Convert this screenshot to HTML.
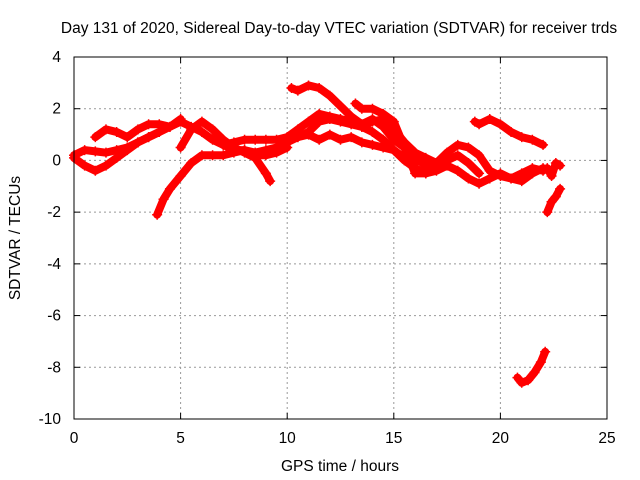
<!DOCTYPE html>
<html><head><meta charset="utf-8"><style>
body{margin:0;background:#fff}
svg{display:block;font-family:"Liberation Sans",sans-serif;font-size:15.5px}
</style></head><body>
<svg id="chart" width="640" height="480">
<text x="339" y="33" text-anchor="middle">Day 131 of 2020, Sidereal Day-to-day VTEC variation (SDTVAR) for receiver trds</text>
<text x="340" y="471" text-anchor="middle">GPS time / hours</text>
<text transform="translate(20,238) rotate(-90)" text-anchor="middle">SDTVAR / TECUs</text>
<g id="grid"></g><g id="marks"></g>
<rect x="74" y="57" width="533" height="362" fill="none" stroke="#000" stroke-width="1"/>
</svg>
<script>
const xTicks=[0,5,10,15,20,25];
const yTicks=[4,2,0,-2,-4,-6,-8,-10];
const t1x=[0,0.5,1,1.5,2,2.5,3,3.5,4,4.5,5];
const t1y=[0.2,0.4,0.35,0.3,0.4,0.5,0.7,0.9,1.1,1.3,1.6];
const t2x=[0,0.5,1,1.5,2,2.5,3,3.5,4];
const t2y=[0.1,-0.2,-0.4,-0.2,0.1,0.4,0.7,0.9,1.1];
const t3x=[1,1.5,2,2.5,3,3.5,4,4.5,5,5.5,6,6.5,7,7.5,8,8.5,9,9.5,10];
const t3y=[0.9,1.2,1.1,0.9,1.2,1.4,1.4,1.3,1.5,1.3,1.1,0.8,0.6,0.4,0.4,0.2,0.2,0.3,0.5];
const t4x=[3.9,4.2,4.5,5,5.5,6,6.5,7,7.5,8,8.5,9,9.5,10,10.5,11,11.5,12,12.5,13,13.5,14,14.5,15,15.5,16,16.5,17];
const t4y=[-2.1,-1.5,-1.1,-0.6,-0.1,0.2,0.2,0.2,0.3,0.4,0.3,0.4,0.5,0.7,0.9,1.1,1.5,1.6,1.5,1.4,1.3,1.1,0.8,0.4,0.0,-0.3,-0.5,-0.3];
const t5x=[5,5.5,6,6.5,7,7.5,8,8.5,9,9.2];
const t5y=[0.5,1.2,1.5,1.2,0.8,0.5,0.3,0.1,-0.5,-0.8];
const t6x=[7,7.5,8,8.5,9,9.5,10,10.5,11,11.5,12,12.5,13,13.5,14,14.5,15,15.5,16,16.5,17,17.5,18,18.5,19];
const t6y=[0.6,0.7,0.8,0.8,0.8,0.8,0.9,1.2,1.5,1.8,1.7,1.6,1.5,1.3,1.5,1.6,1.2,0.7,0.3,0.1,-0.1,0.0,0.2,-0.1,-0.5];
const t7x=[10.2,10.5,11,11.5,12,12.5,13,13.5,14,14.5,15,15.5,16,16.5,17,17.5,18,18.5,19,19.5,20,20.5,21,21.5,22];
const t7y=[2.8,2.7,2.9,2.8,2.5,2.1,1.7,1.4,1.6,1.3,0.8,0.5,0.1,-0.2,-0.1,0.3,0.6,0.5,0.2,-0.4,-0.6,-0.7,-0.5,-0.3,-0.4];
const t8x=[10.5,11,11.5,12,12.5,13,13.5,14,14.5,15,15.5,16];
const t8y=[0.9,1.0,0.8,1.0,0.8,0.9,0.7,0.6,0.5,0.4,0.1,-0.1];
const t9x=[13.2,13.5,14,14.5,15,15.5,16,16.5,17,17.5,18,18.5,19,19.5,20,20.5,21,21.5,22];
const t9y=[2.2,2.0,2.0,1.8,1.5,0.5,-0.5,-0.5,-0.4,-0.2,-0.4,-0.7,-0.9,-0.7,-0.5,-0.7,-0.8,-0.5,-0.3];
const t10x=[18.8,19,19.5,20,20.5,21,21.5,22];
const t10y=[1.5,1.4,1.6,1.4,1.1,0.9,0.8,0.6];
const t11x=[22.2,22.4,22.6,22.8];
const t11y=[-0.3,-0.6,-0.1,-0.2];
const t12x=[22.2,22.4,22.6,22.8];
const t12y=[-2.0,-1.6,-1.4,-1.1];
const t13x=[20.8,21,21.3,21.6,21.9,22.1];
const t13y=[-8.4,-8.6,-8.5,-8.2,-7.8,-7.4];
const tracks=[[t1x,t1y],[t2x,t2y],[t3x,t3y],[t4x,t4y],[t5x,t5y],[t6x,t6y],[t7x,t7y],[t8x,t8y],[t9x,t9y],[t10x,t10y],[t11x,t11y],[t12x,t12y],[t13x,t13y]];
const X=v=>74+v*(533/25), Y=v=>57+(4-v)*(362/14);
const NS="http://www.w3.org/2000/svg";
const grid=document.getElementById('grid'), marks=document.getElementById('marks');
function mk(tag,attrs,parent){const e=document.createElementNS(NS,tag);for(const k in attrs)e.setAttribute(k,attrs[k]);parent.appendChild(e);return e;}
xTicks.forEach(t=>{
  if(t>0&&t<25){const g=mk('line',{x1:X(t),x2:X(t),y1:57,y2:419,stroke:'#999','stroke-dasharray':'2,3'},grid);
  
  }
  mk('line',{x1:X(t),x2:X(t),y1:419,y2:413,stroke:'#000'},grid);
  mk('line',{x1:X(t),x2:X(t),y1:57,y2:63,stroke:'#000'},grid);
  const l=mk('text',{x:X(t),y:443,'text-anchor':'middle'},grid);l.textContent=t;
  
  
});
yTicks.forEach(t=>{
  if(t<4&&t>-10){const g=mk('line',{x1:74,x2:607,y1:Y(t),y2:Y(t),stroke:'#999','stroke-dasharray':'2,3'},grid);
  
  }
  mk('line',{x1:74,x2:80,y1:Y(t),y2:Y(t),stroke:'#000'},grid);
  mk('line',{x1:607,x2:601,y1:Y(t),y2:Y(t),stroke:'#000'},grid);
  const l=mk('text',{x:61,y:Y(t)+5,'text-anchor':'end'},grid);l.textContent=t;
  
  
});
tracks.forEach(([xs,ys])=>{
  const pts=xs.map((x,i)=>X(x)+','+Y(ys[i])).join(' ');
  const p=mk('polyline',{points:pts,fill:'none',stroke:'#f00','stroke-width':8,'stroke-linejoin':'round','stroke-linecap':'round'},marks);
  
  
  xs.forEach((x,i)=>{
    const cx=X(x),cy=Y(ys[i]);
    const m=mk('path',{d:`M${cx-5},${cy}H${cx+5}M${cx},${cy-5}V${cy+5}`,stroke:'#f00','stroke-width':1.5},marks);
    
    
  });
});
</script>
</body></html>
